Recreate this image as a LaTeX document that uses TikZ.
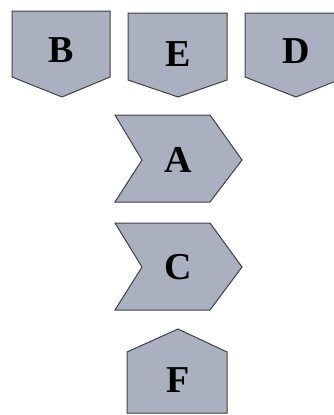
\documentclass[tikz,border=0pt]{standalone}
\usepackage{fontspec}
\setmainfont{Liberation Serif}
\usepackage{tikz}
\usetikzlibrary{positioning,calc}
\definecolor{shapegray}{RGB}{170,176,191}
\definecolor{edgegray}{RGB}{64,64,68}

\tikzset{
  block/.style={fill=shapegray, draw=edgegray, line width=1pt, line join=miter},
  letter/.style={font=\fontsize{38}{42}\selectfont\bfseries, inner sep=0pt}
}

\begin{document}
\begin{tikzpicture}[x=1pt,y=-1pt]
\useasboundingbox (0,0) rectangle (334,415);
\clip (0,0) rectangle (334,415);
% top row, pointing down
\draw[block] (12,11) -- (110,11) -- (110,77) -- (62,97) -- (12,77) -- cycle;
\draw[block] (128,13) -- (227,13) -- (227,80) -- (178,97) -- (128,80) -- cycle;
\draw[block] (245,13) -- (346,13) -- (346,77) -- (296,97) -- (245,77) -- cycle;
% chevrons
\draw[block] (115,115) -- (210,115) -- (242,160) -- (210,202) -- (115,202) -- (142,160) -- cycle;
\draw[block] (115,223) -- (210,223) -- (242,267) -- (210,310) -- (115,310) -- (142,267) -- cycle;
% bottom, pointing up
\draw[block] (127,352) -- (178,329) -- (227,352) -- (227,413) -- (127,413) -- cycle;

\node[letter] (b) at (61,50) {B};
\node[letter] (e) at (178,54) {E};
\node[letter] (d) at (296,51) {D};
\node[letter] (a) at (178,160) {A};
\node[letter] (c) at (178,267) {C};
\node[letter] (f) at (178,380) {F};
\end{tikzpicture}
\end{document}
